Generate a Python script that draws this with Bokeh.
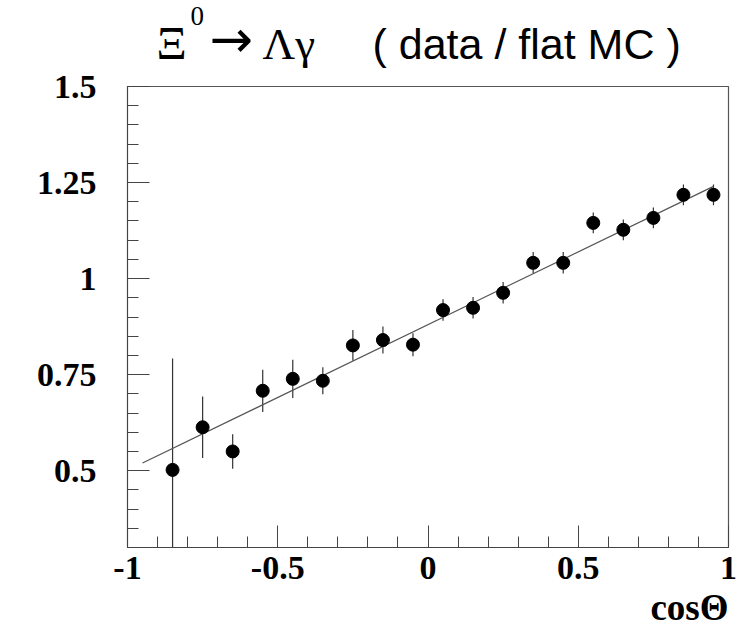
from bokeh.plotting import figure
from bokeh.layouts import column
from bokeh.models import Range1d, SingleIntervalTicker, ColumnDataSource, Title
from bokeh.core.properties import value
from bokeh.embed import file_html
from bokeh.resources import INLINE

# ---- data ----
cos_theta = [-0.85, -0.75, -0.65, -0.55, -0.45, -0.35, -0.25, -0.15, -0.05,
             0.05, 0.15, 0.25, 0.35, 0.45, 0.55, 0.65, 0.75, 0.85, 0.95]
ratio = [0.502, 0.613, 0.550, 0.708, 0.739, 0.734, 0.826, 0.840, 0.828,
         0.918, 0.924, 0.963, 1.041, 1.041, 1.145, 1.127, 1.158, 1.218, 1.218]
ratio_err = [0.29, 0.08, 0.045, 0.055, 0.05, 0.035, 0.04, 0.035, 0.03,
             0.028, 0.028, 0.028, 0.028, 0.028, 0.027, 0.027, 0.027, 0.027, 0.027]
fit_x = [-0.95, 0.95]
fit_y = [0.52, 1.24]

x_ticks = [-1, -0.5, 0, 0.5, 1]
x_tick_labels = ["-1", "-0.5", "0", "0.5", "1"]
y_ticks = [0.5, 0.75, 1, 1.25, 1.5]
y_tick_labels = ["0.5", "0.75", "1", "1.25", "1.5"]

x_axis_title = "cosΘ"
title_decay = ["Ξ", "0", "→", "Λγ"]
title_note = "( data / flat MC )"

SERIF = "Liberation Serif"
SANS = "Liberation Sans"
FRAME = "#444444"

# ---------------- title strip ----------------
t = figure(width=744, height=69, x_range=Range1d(0, 744), y_range=Range1d(69, 0),
           output_backend="svg", toolbar_location=None,
           x_axis_location=None, y_axis_location=None,
           min_border=0, min_border_left=0, min_border_right=0,
           min_border_top=0, min_border_bottom=0)
t.title = None
t.frame_align = False
t.outline_line_color = None
t.grid.visible = False
t.background_fill_color = "white"
t.border_fill_color = "white"

t.text(x=[156], y=[42], text=[title_decay[0]], text_font=value(SERIF),
       text_font_size="47px", text_baseline="alphabetic", text_align="left", text_color="black")
t.text(x=[190], y=[15], text=[title_decay[1]], text_font=value(SERIF),
       text_font_size="27px", text_baseline="alphabetic", text_align="left", text_color="black")
t.text(x=[209], y=[38], text=[title_decay[2]], text_font=value("DejaVu Sans"),
       text_font_size="52px", text_baseline="alphabetic", text_align="left", text_color="black")
t.text(x=[262], y=[43], text=[title_decay[3]], text_font=value(SERIF),
       text_font_size="45px", text_baseline="alphabetic", text_align="left", text_color="black")
t.text(x=[372], y=[43], text=[title_note], text_font=value(SANS),
       text_font_size="43px", text_baseline="alphabetic", text_align="left", text_color="black")

# ---------------- main plot ----------------
src = ColumnDataSource(dict(
    x=cos_theta, y=ratio,
    lo=[r - e for r, e in zip(ratio, ratio_err)],
    hi=[r + e for r, e in zip(ratio, ratio_err)],
))

p = figure(width=744, height=561, x_range=Range1d(-1, 1), y_range=Range1d(0.3, 1.5),
           output_backend="svg", toolbar_location=None,
           min_border_left=127, min_border_right=16, min_border_top=17, min_border_bottom=83)
p.frame_align = False
p.background_fill_color = "white"
p.border_fill_color = "white"
p.grid.visible = False
p.outline_line_color = "#555555"
p.outline_line_width = 1.2

p.xaxis.ticker = SingleIntervalTicker(interval=0.5, num_minor_ticks=5)
p.yaxis.ticker = SingleIntervalTicker(interval=0.25, num_minor_ticks=5)
p.xaxis.major_label_overrides = {tk: lb for tk, lb in zip(x_ticks, x_tick_labels)}
p.yaxis.major_label_overrides = {tk: lb for tk, lb in zip(y_ticks, y_tick_labels)}

for ax in (p.xaxis, p.yaxis):
    ax.axis_line_color = FRAME
    ax.major_tick_line_color = FRAME
    ax.minor_tick_line_color = FRAME
    ax.major_tick_in = 22
    ax.major_tick_out = 0
    ax.minor_tick_in = 11
    ax.minor_tick_out = 0
    ax.major_label_text_font = SERIF
    ax.major_label_text_font_style = "bold"
    ax.major_label_text_font_size = "34px"
    ax.major_label_text_color = "black"

p.xaxis.major_label_standoff = 9
p.yaxis.major_label_standoff = 31

p.add_layout(Title(text=x_axis_title, align="right", text_font=SERIF,
                   text_font_style="bold", text_font_size="37px",
                   text_color="black", standoff=6), "below")

# error bars, points, fit
p.segment(x0="x", y0="lo", x1="x", y1="hi", source=src, line_color="#333333", line_width=1.2)
p.line(fit_x, fit_y, line_color="#555555", line_width=1.2)
p.scatter("x", "y", source=src, size=13, fill_color="black", line_color="black")

layout = column(t, p, spacing=0)
open("out.html", "w").write(file_html(layout, INLINE))
